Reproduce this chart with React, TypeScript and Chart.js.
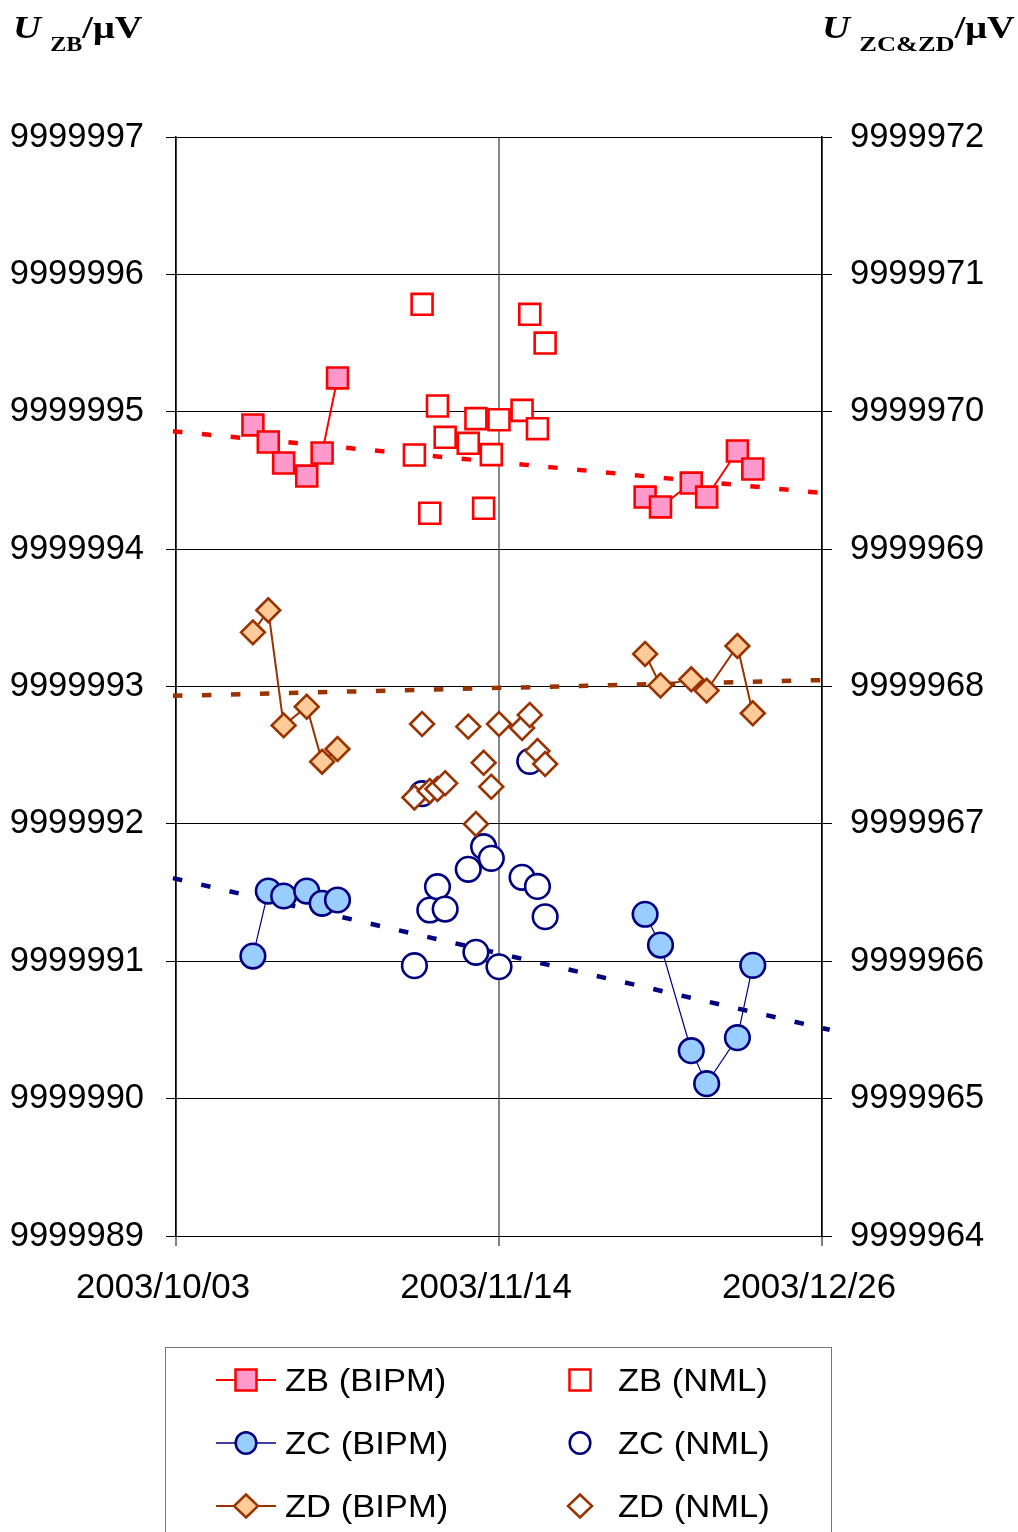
import React, { useEffect, useRef } from 'react';
import { Chart, registerables } from 'chart.js';

Chart.register(...registerables);

// ---- axis definitions ----
const X_TICK_DAYS = [0, 42, 84]; // days since 2003/10/03
const X_TICK_LABELS = ['2003/10/03', '2003/11/14', '2003/12/26'];
const X_MIN = 0;
const X_MAX = 84;
const LEFT_MIN = 9999989;
const LEFT_MAX = 9999997;
const RIGHT_MIN = 9999964;
const RIGHT_MAX = 9999972;

// ---- BIPM measurements (null = gap between the two runs) ----
const bipmDays = [10, 12, 14, 17, 19, 21, 40, 61, 63, 67, 69, 73, 75];
const zbBipm = [9999994.904, 9999994.78, 9999994.627, 9999994.532, 9999994.7, 9999995.246, null,
  9999994.379, 9999994.307, 9999994.481, 9999994.379, 9999994.714, 9999994.583];
const zcBipm = [9999966.038, 9999966.511, 9999966.475, 9999966.511, 9999966.422, 9999966.446, null,
  9999966.342, 9999966.118, 9999965.349, 9999965.109, 9999965.444, 9999965.97];
const zdBipm = [9999968.394, 9999968.555, 9999967.717, 9999967.853, 9999967.453, 9999967.545, null,
  9999968.237, 9999968.008, 9999968.052, 9999967.97, 9999968.295, 9999967.805];

// ---- NML measurements ----
const nmlDays = [31, 32, 33, 34, 35, 38, 39, 40, 41, 42, 45, 46, 47, 48];
const zbNml = [9999994.685, 9999995.782, 9999994.261, 9999995.042, 9999994.814, 9999994.77, 9999994.95,
  9999994.297, 9999994.688, 9999994.942, 9999995.01, 9999995.709, 9999994.877, 9999995.5];
const zcNml = [9999965.968, 9999967.22, 9999966.373, 9999966.543, 9999966.38, 9999966.669, 9999966.065,
  9999966.834, 9999966.749, 9999965.96, 9999966.611, 9999967.455, 9999966.545, 9999966.324];
const zdNml = [9999967.192, 9999967.727, 9999967.239, 9999967.254, 9999967.295, 9999967.708, 9999966.999,
  9999967.445, 9999967.271, 9999967.727, 9999967.698, 9999967.793, 9999967.53, 9999967.436];

// ---- linear trend lines (end points) ----
const trendDays = [-0.4, 85];
const zbTrend = [9999994.858, 9999994.403];
const zcTrend = [9999966.605, 9999965.501];
const zdTrend = [9999967.932, 9999968.048];

const RED = '#FF0000';
const PINK = '#FF99CC';
const NAVY = '#000080';
const LBLUE = '#99CCFF';
const BROWN = '#993300';
const PEACH = '#FFCC99';
const SANS = '"Liberation Sans", Arial, Helvetica, sans-serif';
const SERIF = '"Liberation Serif", "Times New Roman", serif';

const xy = (days: number[], vals: (number | null)[]) => days.map((d, i) => ({ x: d, y: vals[i] }));

type LegendItem = { label: string; col: number; row: number; shape: string; fill: string; stroke: string; line: boolean; lw: number };
const legendItems: LegendItem[] = [
  { label: 'ZB (BIPM)', col: 0, row: 0, shape: 'square', fill: PINK, stroke: RED, line: true, lw: 2 },
  { label: 'ZB (NML)', col: 1, row: 0, shape: 'square', fill: '#fff', stroke: RED, line: false, lw: 2 },
  { label: 'ZC (BIPM)', col: 0, row: 1, shape: 'circle', fill: LBLUE, stroke: NAVY, line: true, lw: 1.5 },
  { label: 'ZC (NML)', col: 1, row: 1, shape: 'circle', fill: '#fff', stroke: NAVY, line: false, lw: 1.5 },
  { label: 'ZD (BIPM)', col: 0, row: 2, shape: 'diamond', fill: PEACH, stroke: BROWN, line: true, lw: 2 },
  { label: 'ZD (NML)', col: 1, row: 2, shape: 'diamond', fill: '#fff', stroke: BROWN, line: false, lw: 2 },
];
const ROW_Y = [1380, 1443, 1506];
const MARK_X = [246, 580];
const TEXT_X = [285, 618];

function Marker({ it, cx, cy }: { it: LegendItem; cx: number; cy: number }) {
  const sw = 2.5;
  if (it.shape === 'square') return <rect x={cx - 10.5} y={cy - 10.5} width={21} height={21} fill={it.fill} stroke={it.stroke} strokeWidth={sw} />;
  if (it.shape === 'circle') return <ellipse cx={cx} cy={cy} rx={10.3} ry={10.8} fill={it.fill} stroke={it.stroke} strokeWidth={sw} />;
  return <polygon points={`${cx},${cy - 11.5} ${cx + 12},${cy} ${cx},${cy + 11.5} ${cx - 12},${cy}`} fill={it.fill} stroke={it.stroke} strokeWidth={sw} />;
}

export default function App() {
  const ref = useRef<HTMLCanvasElement>(null);

  useEffect(() => {
    const canvas = ref.current;
    if (!canvas) return;
    const H = 1310;
    const markerDs = (label: string, days: number[], vals: (number | null)[], axis: string, style: string, radius: number, fill: string, stroke: string, line: boolean, lw: number, order: number) => ({
      label,
      data: xy(days, vals),
      yAxisID: axis,
      showLine: line,
      spanGaps: false,
      borderColor: stroke,
      borderWidth: lw,
      backgroundColor: fill,
      pointStyle: style,
      pointRadius: radius,
      pointBorderWidth: 2.6,
      pointBackgroundColor: fill,
      pointBorderColor: stroke,
      order,
    });
    const trendDs = (label: string, vals: number[], axis: string, color: string) => ({
      label,
      data: xy(trendDays, vals),
      yAxisID: axis,
      borderColor: color,
      borderWidth: 4.5,
      borderDash: [9.5, 19.5],
      borderCapStyle: 'butt',
      pointRadius: 0,
      clip: false,
      order: 10,
    });

    const chart = new Chart(canvas, {
      type: 'line',
      data: {
        datasets: [
          markerDs('ZB (BIPM)', bipmDays, zbBipm, 'y', 'rect', 14.8, PINK, RED, true, 2, 6),
          markerDs('ZB (NML)', nmlDays, zbNml, 'y', 'rect', 14.8, '#fff', RED, false, 2, 5),
          markerDs('ZC (BIPM)', bipmDays, zcBipm, 'y2', 'circle', 12.3, LBLUE, NAVY, true, 1.2, 4),
          markerDs('ZC (NML)', nmlDays, zcNml, 'y2', 'circle', 12.3, '#fff', NAVY, false, 1.2, 3),
          markerDs('ZD (BIPM)', bipmDays, zdBipm, 'y2', 'rectRot', 11.9, PEACH, BROWN, true, 2, 2),
          markerDs('ZD (NML)', nmlDays, zdNml, 'y2', 'rectRot', 11.9, '#fff', BROWN, false, 2, 1),
          trendDs('ZB trend', zbTrend, 'y', RED),
          trendDs('ZC trend', zcTrend, 'y2', NAVY),
          trendDs('ZD trend', zdTrend, 'y2', BROWN),
        ] as any,
      },
      options: {
        responsive: false,
        animation: false,
        devicePixelRatio: 1,
        layout: { padding: { top: 137, left: 0, right: 0, bottom: 0 } },
        plugins: { legend: { display: false }, tooltip: { enabled: false } },
        scales: {
          x: {
            type: 'linear',
            min: X_MIN,
            max: X_MAX,
            afterBuildTicks: (s: any) => { s.ticks = X_TICK_DAYS.map((v) => ({ value: v })); },
            afterFit: (s: any) => { s.height = H - 1236; },
            ticks: {
              autoSkip: false,
              maxRotation: 0,
              padding: 22,
              labelOffset: -13,
              color: '#000',
              font: { family: SANS, size: 34.8 },
              callback: (v: any) => X_TICK_LABELS[X_TICK_DAYS.indexOf(Number(v))] ?? '',
            },
            grid: { color: '#888', lineWidth: 2, tickLength: 10, tickColor: '#000', tickWidth: 1 },
            border: { display: true, color: '#000', width: 1 },
          },
          y: {
            type: 'linear',
            position: 'left',
            min: LEFT_MIN,
            max: LEFT_MAX,
            afterFit: (s: any) => { s.width = 176; },
            ticks: {
              stepSize: 1,
              padding: 22,
              color: '#000',
              font: { family: SANS, size: 34.5 },
              callback: (v: any) => String(v),
            },
            grid: { color: '#000', lineWidth: 1, tickLength: 10 },
            border: { display: true, color: '#000', width: 1.5 },
          },
          y2: {
            type: 'linear',
            position: 'right',
            min: RIGHT_MIN,
            max: RIGHT_MAX,
            afterFit: (s: any) => { s.width = 1018 - 822; },
            ticks: {
              stepSize: 1,
              padding: 18,
              color: '#000',
              font: { family: SANS, size: 34.5 },
              callback: (v: any) => String(v),
            },
            grid: { drawOnChartArea: false, color: '#000', lineWidth: 1, tickLength: 10 },
            border: { display: true, color: '#000', width: 1.5 },
          },
        },
      } as any,
    });
    return () => chart.destroy();
  }, []);

  const titleStyle: React.CSSProperties = {
    position: 'absolute',
    top: 11,
    fontFamily: SERIF,
    fontWeight: 'bold',
    fontSize: 32,
    lineHeight: '32px',
    whiteSpace: 'nowrap',
    transform: 'scaleX(1.2)',
    transformOrigin: '0 0',
    color: '#000',
  };
  const subStyle: React.CSSProperties = { fontSize: 20, position: 'relative', top: 13 };

  return (
    <div style={{ position: 'absolute', left: 0, top: 0, width: 1018, height: 1532, overflow: 'hidden', background: '#fff' }}>
      <canvas ref={ref} width={1018} height={1310} style={{ position: 'absolute', left: 0, top: 0, width: 1018, height: 1310 }} />
      <div style={{ ...titleStyle, left: 13 }}>
        <i>U</i> <span style={subStyle}>ZB</span>/μV
      </div>
      <div style={{ ...titleStyle, left: 822 }}>
        <i>U</i> <span style={{ ...subStyle, fontSize: 22 }}>ZC&amp;ZD</span>/μV
      </div>
      <div style={{ position: 'absolute', left: 165, top: 1347, width: 667, height: 250, border: '1px solid #777', boxSizing: 'border-box' }} />
      <svg width={1018} height={1532} style={{ position: 'absolute', left: 0, top: 0 }}>
        {legendItems.map((it) => (
          <g key={it.label}>
            {it.line && <line x1={216} x2={276} y1={ROW_Y[it.row]} y2={ROW_Y[it.row]} stroke={it.stroke} strokeWidth={it.lw} />}
            <Marker it={it} cx={MARK_X[it.col]} cy={ROW_Y[it.row]} />
          </g>
        ))}
      </svg>
      {legendItems.map((it) => (
        <div
          key={'t' + it.label}
          style={{
            position: 'absolute',
            left: TEXT_X[it.col],
            top: ROW_Y[it.row] - 15.6,
            fontFamily: SANS,
            fontSize: 32,
            lineHeight: '32px',
            whiteSpace: 'nowrap',
            transform: 'scaleX(1.08)',
            transformOrigin: '0 0',
            color: '#000',
          }}
        >
          {it.label}
        </div>
      ))}
    </div>
  );
}
